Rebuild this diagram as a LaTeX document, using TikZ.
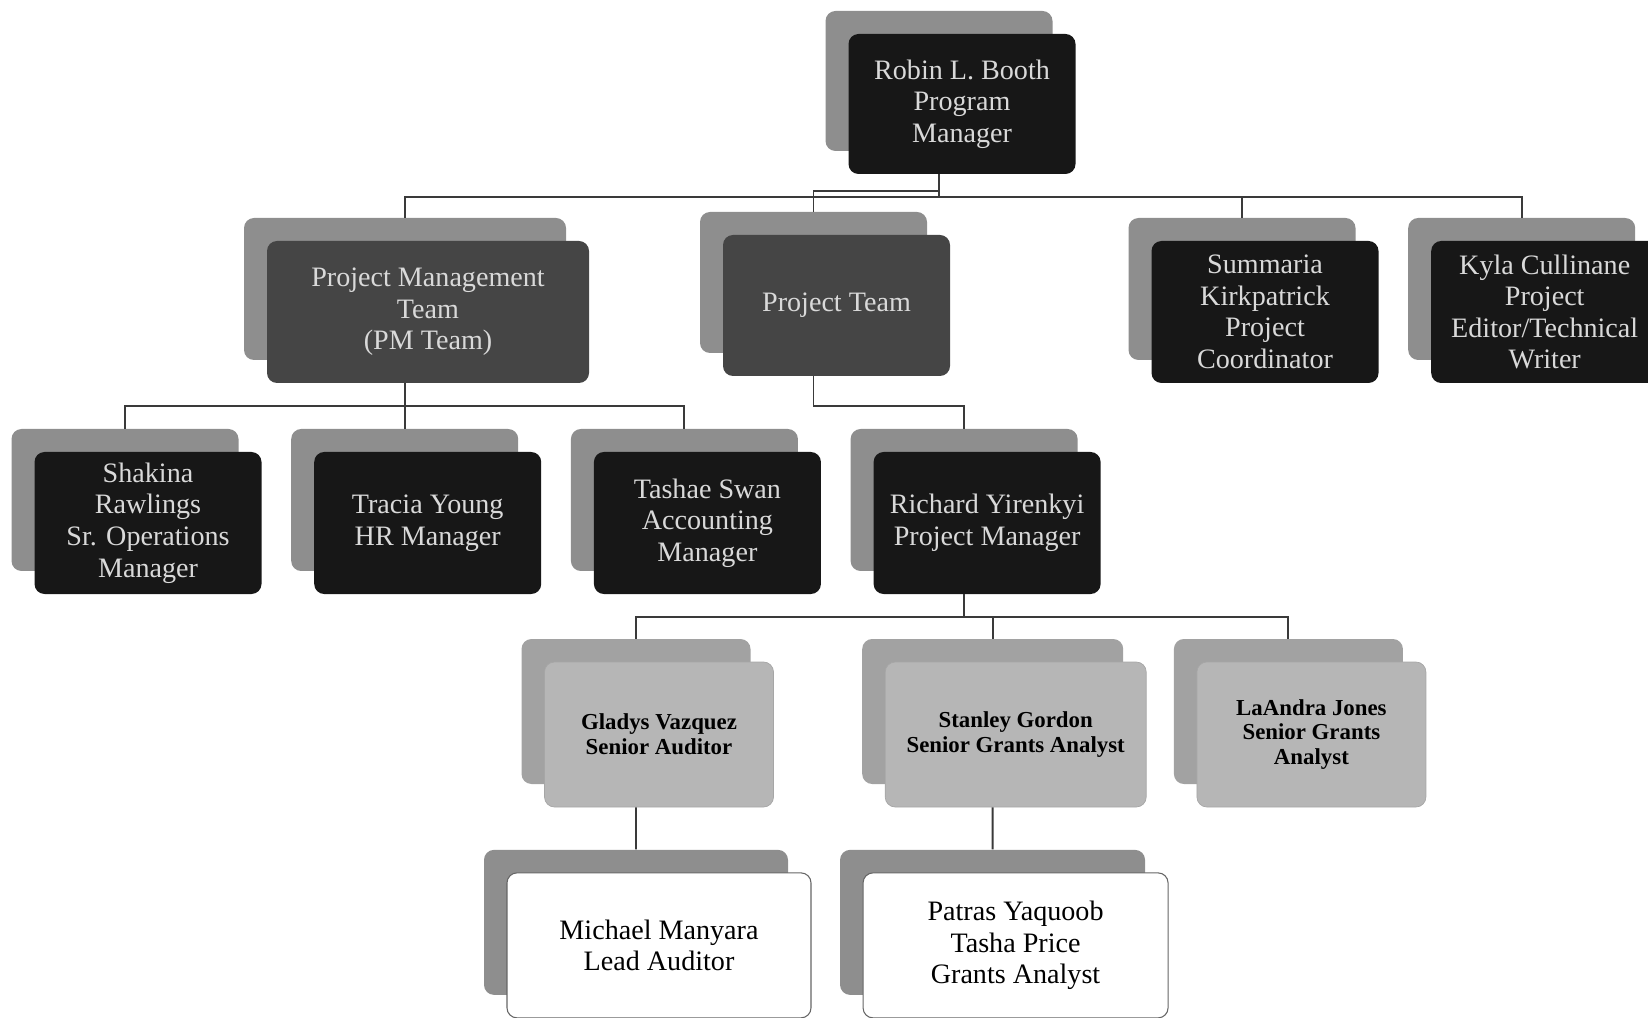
\documentclass[tikz,border=0pt]{standalone}
\usepackage{fontspec}
\setmainfont{Liberation Serif}
\usetikzlibrary{positioning, shadows}

\definecolor{panelblack}{HTML}{171717}
\definecolor{paneldark}{HTML}{454545}
\definecolor{panellight}{HTML}{B6B6B6}
\definecolor{backgray}{HTML}{8E8E8E}
\definecolor{lightback}{HTML}{A2A2A2}
\definecolor{labelgray}{HTML}{D9D9D9}
\definecolor{wiregray}{HTML}{3A3A3A}

\begin{document}
\begin{tikzpicture}[
    card/.style={rounded corners=0.2cm, inner sep=0pt, align=center,
        minimum width=4.54cm, minimum height=2.84cm,
        font=\fontsize{16}{18}\selectfont,
        general shadow={fill=#1, shadow xshift=-0.46cm, shadow yshift=0.46cm}},
    card/.default=backgray,
    blackcard/.style={card, fill=panelblack, text=labelgray},
    darkcard/.style={card, fill=paneldark, text=labelgray},
    lightcard/.style={card=lightback, fill=panellight, draw=black!35, minimum height=2.9cm,
        font=\fontsize{13}{14}\selectfont\bfseries},
    whitecard/.style={card, fill=white, draw=black!60, line width=0.6pt, minimum height=2.9cm},
    link/.style={draw=wiregray, line width=1.1pt}]
    \useasboundingbox (0,0) rectangle (32.96,-20.36);

    % Program manager
    \node [blackcard, minimum height=2.8cm] (booth) at (19.24,-2.08) {Robin L. Booth\\Program\\Manager};

    % Teams and staff reporting to the program manager
    \node [darkcard, minimum width=6.44cm] (pmteam) at (8.56,-6.24) {Project Management\\Team\\(PM Team)};
    \node [darkcard, minimum height=2.82cm] (projteam) at (16.73,-6.11) {Project Team};
    \node [blackcard] (kirkpatrick) at (25.30,-6.24) {Summaria\\Kirkpatrick\\Project\\Coordinator};
    \node [blackcard, right=1.04cm of kirkpatrick] (cullinane) {Kyla Cullinane\\Project\\Editor/Technical\\Writer};

    % Managers
    \node [blackcard] (rawlings) at (2.96,-10.46) {Shakina\\Rawlings\\Sr. Operations\\Manager};
    \node [blackcard, right=1.04cm of rawlings] (young) {Tracia Young\\HR Manager};
    \node [blackcard, right=1.04cm of young] (swan) {Tashae Swan\\Accounting\\Manager};
    \node [blackcard, right=1.04cm of swan] (yirenkyi) {Richard Yirenkyi\\Project Manager};

    % Senior staff
    \node [lightcard, minimum width=4.58cm] (vazquez) at (13.18,-14.69) {Gladys Vazquez\\Senior Auditor};
    \node [lightcard, minimum width=5.22cm, right=2.22cm of vazquez] (gordon) {Stanley Gordon\\Senior Grants Analyst};
    \node [lightcard, minimum width=4.58cm, right=1.0cm of gordon] (jones) {LaAndra Jones\\Senior Grants\\Analyst};

    % Auditors and analysts
    \node [whitecard, minimum width=6.08cm, below=1.3cm of vazquez] (manyara) {Michael Manyara\\Lead Auditor};
    \node [whitecard, minimum width=6.1cm, right=1.02cm of manyara] (yaquoob) {Patras Yaquoob\\Tasha Price\\Grants Analyst};

    % Lines from the program manager
    \coordinate (topbus) at ([xshift=-0.46cm, yshift=-0.46cm]booth.south);
    \draw [link] ([xshift=-0.46cm]booth.south) -- (topbus);
    \draw [link] (topbus) -| ([shift={(-0.46,0.46)}]pmteam.north);
    \draw [link] (topbus) -| ([shift={(-0.46,0.46)}]kirkpatrick.north);
    \draw [link] (topbus) -| ([shift={(-0.46,0.46)}]cullinane.north);
    \draw [link] ([xshift=-0.46cm, yshift=-0.34cm]booth.south) -| ([shift={(-0.46,0.46)}]projteam.north);

    % PM team
    \coordinate (pmbus) at ([xshift=-0.46cm, yshift=-0.46cm]pmteam.south);
    \draw [link] ([xshift=-0.46cm]pmteam.south) -- (pmbus);
    \draw [link] (pmbus) -| ([shift={(-0.46,0.46)}]rawlings.north);
    \draw [link] (pmbus) -| ([shift={(-0.46,0.46)}]young.north);
    \draw [link] (pmbus) -| ([shift={(-0.46,0.46)}]swan.north);

    % Project team
    \coordinate (ptstem) at ([xshift=-0.46cm]projteam.south);
    \draw [link] (ptstem) -- (ptstem |- pmbus) -| ([shift={(-0.46,0.46)}]yirenkyi.north);

    % Project manager
    \coordinate (pbus) at ([xshift=-0.46cm, yshift=-0.46cm]yirenkyi.south);
    \draw [link] ([xshift=-0.46cm]yirenkyi.south) -- (pbus);
    \draw [link] (pbus) -| ([shift={(-0.46,0.46)}]vazquez.north);
    \draw [link] (pbus) -| ([shift={(-0.46,0.46)}]gordon.north);
    \draw [link] (pbus) -| ([shift={(-0.46,0.46)}]jones.north);

    % Senior staff to their teams
    \draw [link] ([xshift=-0.46cm]vazquez.south) -- ([shift={(-0.46,0.46)}]manyara.north);
    \draw [link] ([xshift=-0.46cm]gordon.south) -- ([shift={(-0.46,0.46)}]yaquoob.north);
\end{tikzpicture}
\end{document}
